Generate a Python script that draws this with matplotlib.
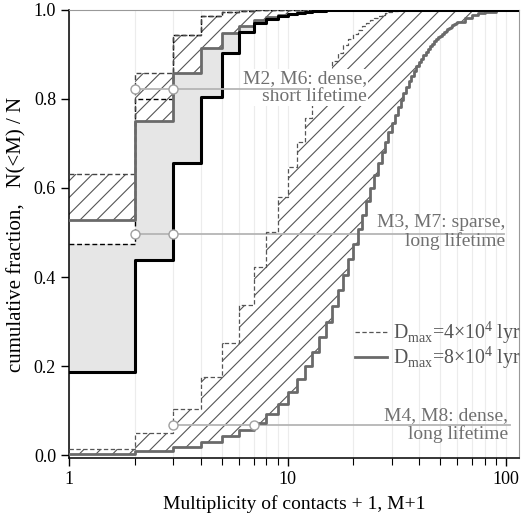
import matplotlib
matplotlib.use("Agg")
import matplotlib.pyplot as plt
from matplotlib.ticker import FixedLocator, NullFormatter

plt.rcParams['font.family'] = ['Liberation Serif', 'DejaVu Serif']
plt.rcParams['mathtext.fontset'] = 'custom'
plt.rcParams['mathtext.rm'] = 'Liberation Serif'
plt.rcParams['hatch.linewidth'] = 0.8

# cumulative fractions N(<M)/N, step values on [n, n+1), n = M+1
# left group (M2/M6 hatched, M3/M7 grey fill)
lo_n = list(range(1, 17))
m2_4e4 = [0.632, 0.858, 0.944, 0.986, 0.995, 0.998, 0.999, 1.0,
          1.0, 1.0, 1.0, 1.0, 1.0, 1.0, 1.0, 1.0]
m2_8e4 = [0.527, 0.751, 0.858, 0.914, 0.948, 0.964, 0.976, 0.983,
          0.988, 0.991, 0.994, 0.996, 0.997, 0.998, 0.999, 1.0]
m3_4e4 = [0.475, 0.800, 0.944, 0.986, 0.995, 0.998, 0.999, 1.0,
          1.0, 1.0, 1.0, 1.0, 1.0, 1.0, 1.0, 1.0]
m3_8e4 = [0.187, 0.439, 0.656, 0.805, 0.903, 0.951, 0.970, 0.980,
          0.986, 0.990, 0.993, 0.995, 0.997, 0.998, 0.999, 1.0]

# right group (M4/M8 hatched)
hi_n = list(range(1, 61)) + [65, 70, 75, 80, 90, 100]
m4_4e4 = [0.013, 0.050, 0.104, 0.175, 0.252, 0.337, 0.423, 0.502, 0.580, 0.647,
          0.704, 0.757, 0.800, 0.835, 0.862, 0.885, 0.903, 0.920, 0.934, 0.945,
          0.955, 0.963, 0.970, 0.976, 0.981, 0.985, 0.989, 0.992, 0.995, 0.997,
          0.998, 0.999] + [1.0] * 34
m4_8e4 = [0.003, 0.009, 0.018, 0.030, 0.043, 0.057, 0.073, 0.092, 0.115, 0.142,
          0.170, 0.200, 0.232, 0.265, 0.300, 0.335, 0.370, 0.405, 0.440, 0.475,
          0.508, 0.540, 0.570, 0.600, 0.628, 0.655, 0.680, 0.703, 0.725, 0.745,
          0.764, 0.782, 0.798, 0.813, 0.827, 0.840, 0.852, 0.863, 0.873, 0.882,
          0.890, 0.898, 0.905, 0.912, 0.918, 0.924, 0.929, 0.934, 0.938, 0.942,
          0.946, 0.949, 0.953, 0.956, 0.959, 0.962, 0.965, 0.968, 0.970, 0.973,
          0.982, 0.989, 0.993, 0.996, 0.999, 1.0]

# label lines, their circles (where the curves cross them) and texts
labels = ["M2, M6: dense,\nshort lifetime", "M3, M7: sparse,\nlong lifetime",
          "M4, M8: dense,\nlong lifetime"]
lab_y = [0.822, 0.497, 0.068]
lab_pts = [[2, 3], [2, 3], [3, 7]]
lab_xend = [12.4, 98, 105]

XMAX = 115


def ext(n, v):
    return list(n) + [XMAX], list(v) + [v[-1]]


fig = plt.figure(figsize=(5.29, 5.23), dpi=100)
ax = fig.add_axes([0.131, 0.1237, 0.850, 0.8577])
ax.set_xscale('log')

hatch_col = '#555555'
solid_grey = '#6a6a6a'
dash = (0, (3.5, 2))

# grey fill for M3/M7
x, a = ext(lo_n, m3_4e4)
_, b = ext(lo_n, m3_8e4)
ax.fill_between(x, b, a, step='post', facecolor='#e6e6e6', lw=0, zorder=1)

# hatched M2/M6
x, a = ext(lo_n, m2_4e4)
_, b = ext(lo_n, m2_8e4)
ax.fill_between(x, b, a, step='post', facecolor='white', edgecolor=hatch_col,
                hatch='//', lw=0, zorder=2)

# hatched M4/M8
xh, a4 = ext(hi_n, m4_4e4)
_, b4 = ext(hi_n, m4_8e4)
ax.fill_between(xh, b4, a4, step='post', facecolor='white', edgecolor=hatch_col,
                hatch='//', lw=0, zorder=2)

for i in range(3):
    ax.plot([lab_pts[i][0], lab_xend[i]], [lab_y[i], lab_y[i]], color='#b5b5b5',
            lw=1.3, zorder=6 if i == 0 else 3)
    ax.plot(lab_pts[i], [lab_y[i]] * 2, 'o', ms=6.5, mfc='white', mec='#a0a0a0',
            mew=1, zorder=7)

# curves
x, v = ext(lo_n, m3_4e4)
ax.step(x, v, where='post', color='black', lw=1, ls=dash, zorder=4)
x, v = ext(lo_n, m2_4e4)
ax.step(x, v, where='post', color='#444444', lw=1, ls=dash, zorder=4)
x, v = ext(lo_n, m2_8e4)
ax.step(x, v, where='post', color=solid_grey, lw=2, zorder=4)
x, v = ext(lo_n, m3_8e4)
ax.step(x, v, where='post', color='black', lw=2.2, zorder=5)
ax.step(xh, a4, where='post', color='#555555', lw=0.9, ls=dash, zorder=4)
ax.step(xh, b4, where='post', color=solid_grey, lw=2, zorder=4)

# group labels
tr = ax.get_yaxis_transform()
txt = dict(transform=tr, ha='right', va='center', ma='right', fontsize=14,
           color='#707070', linespacing=1.08)
ax.text(0.662, 0.825, labels[0], bbox=dict(facecolor='white', edgecolor='none',
        pad=0.5), zorder=5.5, **txt)
ax.text(0.969, 0.502, labels[1], zorder=8, **txt)
ax.text(0.975, 0.068, labels[2], zorder=8, **txt)

# legend drawn by hand
ax.plot([0.635, 0.706], [0.276, 0.276], transform=tr, color='#555555', lw=0.9,
        ls=dash, clip_on=False, zorder=8)
ax.plot([0.635, 0.706], [0.220, 0.220], transform=tr, color=solid_grey, lw=2,
        clip_on=False, zorder=8)
ax.text(0.72, 0.276, 'D$_\\mathregular{max}$=4×10$^\\mathregular{4}$ lyr',
        transform=tr, ha='left', va='center', fontsize=14.3, color='#555555',
        zorder=8)
ax.text(0.72, 0.220, 'D$_\\mathregular{max}$=8×10$^\\mathregular{4}$ lyr',
        transform=tr, ha='left', va='center', fontsize=14.3, color='#555555',
        zorder=8)

ax.set_xlim(1, XMAX)
ax.set_ylim(-0.007, 1.0)
ax.xaxis.set_major_locator(FixedLocator([1, 10, 100]))
ax.set_xticklabels(['1', '10', '100'])
minors = [k * d for d in (1, 10) for k in range(2, 10)]
ax.xaxis.set_minor_locator(FixedLocator(minors))
ax.xaxis.set_minor_formatter(NullFormatter())
ax.set_yticks([0.0, 0.2, 0.4, 0.6, 0.8, 1.0])
ax.set_yticklabels(['0.0', '0.2', '0.4', '0.6', '0.8', '1.0'])
ax.tick_params(which='major', direction='out', length=6, width=1, labelsize=13)
ax.tick_params(which='minor', direction='out', length=5, width=0.8)
ax.grid(True, which='both', axis='x', color='#ececec', lw=0.8)
ax.set_axisbelow(True)

for s in ('top', 'right'):
    ax.spines[s].set_color('#999999')
    ax.spines[s].set_linewidth(0.8)
for s in ('left', 'bottom'):
    ax.spines[s].set_linewidth(1.1)

ax.set_xlabel('Multiplicity of contacts + 1, M+1', fontsize=14, labelpad=5)
ax.set_ylabel('cumulative fraction,   N(<M) / N', fontsize=15, labelpad=5)

fig.savefig('out.png', dpi=100)
